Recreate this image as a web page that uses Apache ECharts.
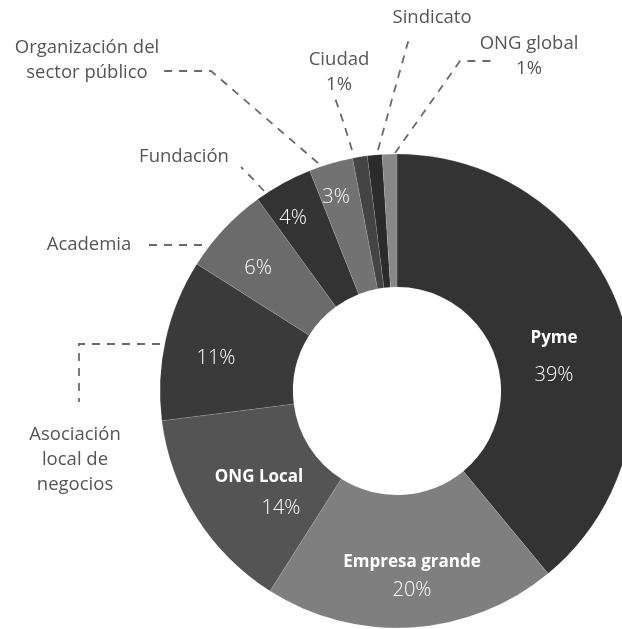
<!DOCTYPE html>
<html>
<head>
<meta charset="utf-8">
<script src="https://cdn.jsdelivr.net/npm/echarts@6/dist/echarts.min.js"></script>
<style>
  html, body { margin: 0; padding: 0; background: #fff; }
  #chart { width: 622px; height: 629px; }
</style>
</head>
<body>
<div id="chart"></div>
<script>
// datos del gráfico
const categories = ['Pyme', 'Empresa grande', 'ONG Local', 'Asociación local de negocios', 'Academia',
  'Fundación', 'Organización del sector público', 'Ciudad', 'Sindicato', 'ONG global'];
const shares = [39, 20, 14, 11, 6, 4, 3, 1, 1, 1];
// etiquetas partidas en líneas (null = sin etiqueta fuera)
const outsideNames = [null, null, null, 'Asociación\nlocal de\nnegocios', 'Academia', 'Fundación',
  'Organización del\nsector público', 'Ciudad', 'Sindicato', 'ONG global'];
// qué se ve dentro del sector: 2 = nombre + %, 1 = solo %, 0 = nada
const insideMode = [2, 2, 2, 1, 1, 1, 1, 0, 0, 0];
const pctOutside = [false, false, false, false, false, false, false, true, false, true];

const colors = ['#333333', '#7f7f7f', '#545454', '#3a3a3a', '#6b6b6b', '#333333', '#727272', '#444444', '#2b2b2b', '#888888'];

// posición de las etiquetas (centro del bloque de texto)
const insidePos = [[554, 357], [412, 576], [259, 493], [216, 358], [258, 268], [293, 218], [336, 197]];
const insideLH = [37, 28, 31, 30, 30, 30, 30];
const pctShift = [0, 0, 44, 0, 0, 0, 0];
const outsidePos = {
  3: [75, 460], 4: [89, 245], 5: [184, 157], 6: [87, 60], 7: [339, 72], 8: [432, 18], 9: [529, 56]
};
const leaderPts = {
  3: [[160, 344], [79, 344], [79, 402]],
  4: [[202, 245], [172, 245], [143, 245]],
  5: [[264, 191], [253, 179], [241, 167]],
  6: [[318, 163], [211, 71], [158, 71]],
  7: [[352, 150], [344, 124], [335, 98]],
  8: [[378, 150], [394, 92], [410, 35]],
  9: [[395, 153], [460, 61], [496, 61]]
};

const chart = echarts.init(document.getElementById('chart'));
const font = '"Open Sans", sans-serif';

const innerData = categories.map((name, i) => {
  let fmt = '';
  if (insideMode[i] === 2) fmt = '{b|' + name + '}\n{p|' + shares[i] + '%}';
  else if (insideMode[i] === 1) fmt = '{p|' + shares[i] + '%}';
  return {
    name: name,
    value: shares[i],
    itemStyle: { color: colors[i] },
    label: {
      show: insideMode[i] > 0,
      formatter: fmt,
      rich: {
        b: { color: '#fff', fontFamily: font, fontSize: 17, fontWeight: 'bold', lineHeight: insideLH[i] || 30 },
        p: {
          color: '#fff', fontFamily: font, fontSize: 20, fontWeight: 300, lineHeight: insideLH[i] || 30,
          padding: [0, 0, 0, pctShift[i] || 0]
        }
      }
    }
  };
});

const outerData = categories.map((name, i) => {
  let txt = outsideNames[i] || '';
  if (pctOutside[i]) txt += '\n' + shares[i] + '%';
  return {
    name: name,
    value: shares[i],
    label: { show: !!outsideNames[i], formatter: txt },
    labelLine: { show: !!outsideNames[i] }
  };
});

chart.setOption({
  animation: false,
  series: [
    {
      type: 'pie',
      center: [397, 391],
      radius: [104, 237],
      startAngle: 90,
      clockwise: true,
      avoidLabelOverlap: false,
      silent: true,
      itemStyle: { borderColor: 'rgba(255,255,255,0.2)', borderWidth: 0.6 },
      label: { position: 'inside' },
      labelLine: { show: false },
      labelLayout: function (params) {
        const p = insidePos[params.dataIndex];
        if (!p) return {};
        return { x: p[0], y: p[1], align: 'center', verticalAlign: 'middle' };
      },
      data: innerData
    },
    {
      type: 'pie',
      center: [397, 391],
      radius: [104, 237],
      startAngle: 90,
      clockwise: true,
      avoidLabelOverlap: false,
      silent: true,
      itemStyle: { color: 'rgba(0,0,0,0)' },
      label: {
        position: 'outside',
        color: '#555555',
        fontFamily: font,
        fontSize: 18.5,
        lineHeight: 25,
        align: 'center'
      },
      labelLine: {
        lineStyle: { color: '#6a6a6a', width: 1.8, type: [8, 7] }
      },
      labelLayout: function (params) {
        const i = params.dataIndex;
        const p = outsidePos[i];
        if (!p) return {};
        return {
          x: p[0], y: p[1], align: 'center', verticalAlign: 'middle',
          labelLinePoints: leaderPts[i]
        };
      },
      data: outerData
    }
  ]
});
</script>
</body>
</html>
